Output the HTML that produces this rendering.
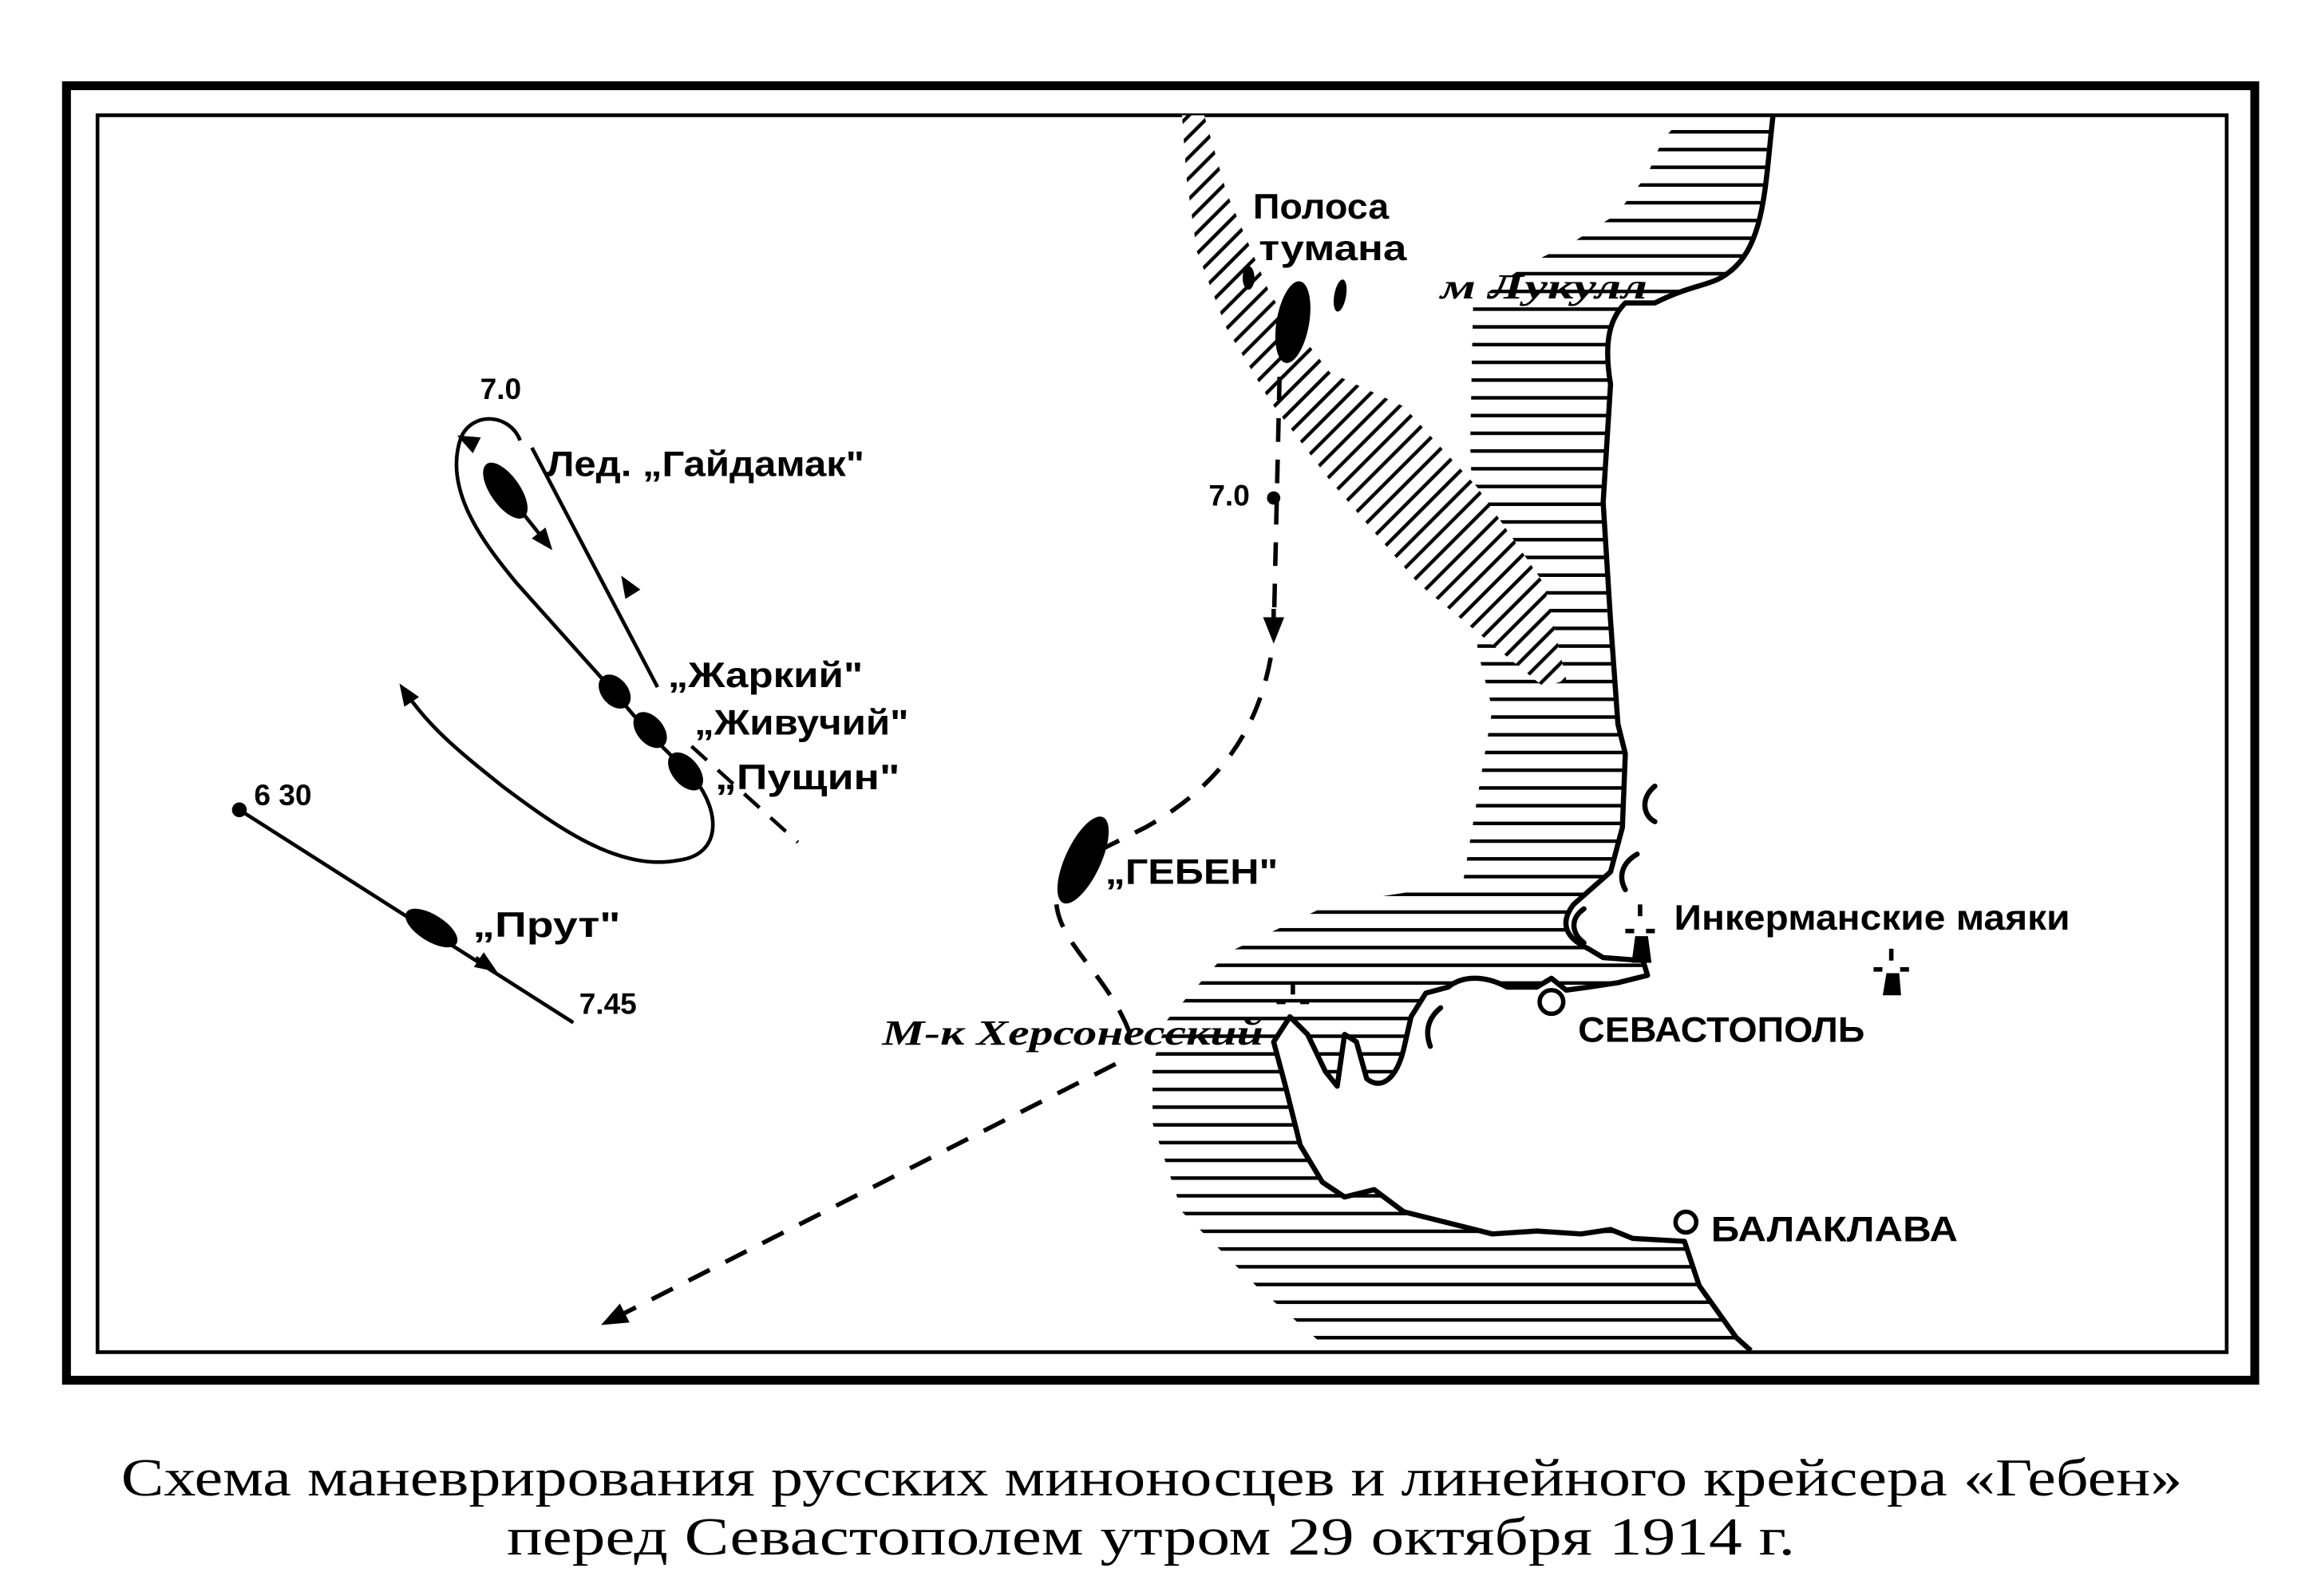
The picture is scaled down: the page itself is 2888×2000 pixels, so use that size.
<!DOCTYPE html>
<html><head><meta charset="utf-8"><style>
html,body{margin:0;padding:0;background:#fff;}
svg{display:block;}
.t{font-family:"Liberation Sans Narrow","Liberation Sans",sans-serif;font-weight:bold;fill:#000;}
.i{font-family:"Liberation Serif",serif;font-style:italic;font-weight:bold;fill:#000;}
.c{font-family:"Liberation Serif",serif;fill:#000;}
</style></head><body>
<svg width="2888" height="2000" viewBox="0 0 1560 1080" preserveAspectRatio="none" xmlns="http://www.w3.org/2000/svg">
<defs>
<pattern id="hz" width="60" height="12" patternUnits="userSpaceOnUse">
<rect x="0" y="4" width="60" height="2.4" fill="#000"/>
</pattern>
<pattern id="dg" width="10" height="10" patternUnits="userSpaceOnUse" patternTransform="rotate(-45)">
<rect x="0" y="3" width="10" height="2.4" fill="#000"/>
</pattern>
<marker id="ar" viewBox="0 0 10 10" refX="8" refY="5" markerWidth="6" markerHeight="6" orient="auto"><path d="M0,1 L10,5 L0,9 z" fill="#000"/></marker>
</defs>
<rect x="0" y="0" width="1560" height="1080" fill="#fff"/>
<rect x="45" y="58" width="1481" height="876" fill="none" stroke="#000" stroke-width="6"/>
<rect x="66" y="78" width="1441" height="837" fill="none" stroke="#000" stroke-width="2.5"/>

<path fill="url(#hz)" d="M1200,78 C1195,120 1195,160 1175,180 C1160,195 1150,190 1120,205 L1100,205 C1090,215 1085,230 1090,260 L1085,340 L1090,420 L1095,490 L1100,510 L1098,560 L1090,590 L1065,612 C1055,625 1060,635 1075,642 L1085,648 L1112,650 L1115,660 L1095,665 L1075,668 L1060,670 L1050,662 L1040,668 L1020,668 C1005,660 990,660 980,668 L965,672 L955,688 L950,710 C945,730 935,738 925,730 L918,705 L910,700 L905,735 L897,725 L885,700 L873,688 L862,705 L870,735 L880,775 L895,800 L910,810 L930,805 L950,820 L970,825 L990,830 L1010,835 L1040,833 L1070,835 L1090,832 L1105,838 L1140,840 L1150,870 L1175,905 L1185,914 L900,914 L850,870 L800,820 L780,760 L780,720 L790,690 L830,645 L900,612 L990,598 L1010,480 L1000,440 L995,300 L997,205 L1032,180 L1066,163 L1094,145 L1115,118 L1125,95 L1140,78 Z"/>
<path fill="#fff" d="M800,78 L815,78 L830,130 L860,200 L900,252 L950,275 L1000,330 L1045,395 L1060,460 L1045,465 L960,395 L900,325 L860,272 L830,222 L810,170 L803,120 Z"/>
<path fill="url(#dg)" d="M800,78 L815,78 L830,130 L860,200 L900,252 L950,275 L1000,330 L1045,395 L1060,460 L1045,465 L960,395 L900,325 L860,272 L830,222 L810,170 L803,120 Z"/>
<path fill="none" stroke="#000" stroke-width="3.5" stroke-linejoin="round" d="M1200,78 C1195,120 1195,160 1175,180 C1160,195 1150,190 1120,205 L1100,205 C1090,215 1085,230 1090,260 L1085,340 L1090,420 L1095,490 L1100,510 L1098,560 L1090,590 L1065,612 C1055,625 1060,635 1075,642 L1085,648 L1112,650 L1115,660 L1095,665 L1075,668 L1060,670 L1050,662 L1040,668 L1020,668 C1005,660 990,660 980,668 L965,672 L955,688 L950,710 C945,730 935,738 925,730 L918,705 L910,700 L905,735 L897,725 L885,700 L873,688 L862,705 L870,735 L880,775 L895,800 L910,810 L930,805 L950,820 L970,825 L990,830 L1010,835 L1040,833 L1070,835 L1090,832 L1105,838 L1140,840 L1150,870 L1175,905 L1185,914"/>
<g fill="none" stroke="#000" stroke-width="3.5" stroke-linecap="round">
<path d="M1120,532 C1110,540 1112,552 1120,556"/>
<path d="M1108,578 C1096,585 1096,595 1100,602"/>
<path d="M1072,615 C1062,622 1064,632 1072,638"/>
<path d="M975,682 C965,690 965,700 968,708"/>
</g>
<circle cx="1050" cy="678" r="8" fill="#fff" stroke="#000" stroke-width="3"/>
<circle cx="1141" cy="827" r="7" fill="#fff" stroke="#000" stroke-width="3"/>
<g stroke="#000" stroke-width="3" fill="#000">
<path d="M1110,612 v8 M1100,630 h6 M1114,630 h6" fill="none"/><path d="M1108,635 L1114,635 L1116,650 L1106,650 z"/>
<path d="M1280,642 v8 M1268,656 h6 M1286,656 h6" fill="none"/><path d="M1278,660 L1284,660 L1285,672 L1276,672 z"/>
<path d="M875,665 v8 M864,678 h6 M880,678 h6" fill="none"/>
</g>

<ellipse cx="875" cy="218" rx="11" ry="28" transform="rotate(10 875 218)" fill="#000"/>
<ellipse cx="845" cy="188" rx="4" ry="8" fill="#000"/>
<ellipse cx="907" cy="200" rx="4" ry="11" transform="rotate(10 907 200)" fill="#000"/>

<g fill="none" stroke="#000" stroke-width="3" stroke-dasharray="16,12">
<path d="M866,255 L862,430"/>
<path d="M860,445 C850,500 820,535 775,560 L745,575"/>
<path d="M715,612 C718,640 750,660 765,700"/>
<path d="M755,720 L410,895" marker-end="url(#ar)"/>
</g>
<path d="M862,412 L862,432" stroke="#000" stroke-width="3" marker-end="url(#ar)"/>
<circle cx="862" cy="337" r="4.5" fill="#000"/>
<ellipse cx="733" cy="582" rx="12" ry="32" transform="rotate(25 733 582)" fill="#000"/>

<g fill="none" stroke="#000" stroke-width="2.5">
<path d="M352,298 C345,280 320,278 312,296"/>
<path d="M312,296 C300,330 325,365 350,395 L410,462 L440,497 L470,527 C488,550 488,578 460,582 C420,590 380,562 340,532 C310,508 290,492 272,465" marker-end="url(#ar)"/>
<path d="M445,465 L360,303"/>
<path d="M340,330 L372,370" marker-end="url(#ar)"/>
<path d="M468,505 L540,570" stroke-dasharray="14,10"/>
<path d="M162,548 L388,692"/>
</g>
<path d="M427,400 L422,392" stroke="#000" stroke-width="2.5" marker-end="url(#ar)"/>
<path d="M320,300 L312,296" stroke="#000" stroke-width="2.5" marker-end="url(#ar)"/>
<path d="M322,648 L334,656" stroke="#000" stroke-width="2.5" marker-end="url(#ar)"/>
<circle cx="162" cy="548" r="5" fill="#000"/>
<ellipse cx="342" cy="332" rx="10" ry="22" transform="rotate(-35 342 332)" fill="#000"/>
<ellipse cx="416" cy="468" rx="9" ry="13" transform="rotate(-40 416 468)" fill="#000"/>
<ellipse cx="440" cy="494" rx="9" ry="14" transform="rotate(-40 440 494)" fill="#000"/>
<ellipse cx="464" cy="522" rx="9" ry="15" transform="rotate(-40 464 522)" fill="#000"/>
<ellipse cx="292" cy="628" rx="20" ry="9" transform="rotate(32 292 628)" fill="#000"/>

<g class="t" font-size="24" lengthAdjust="spacingAndGlyphs">
<text x="848" y="148" textLength="92" lengthAdjust="spacingAndGlyphs">Полоса</text>
<text x="852" y="176" textLength="100" lengthAdjust="spacingAndGlyphs">тумана</text>
<text x="325" y="270" font-size="20">7.0</text>
<text x="818" y="342" font-size="20">7.0</text>
<text x="370" y="322" textLength="215" lengthAdjust="spacingAndGlyphs">Лед. „Гайдамак"</text>
<text x="452" y="465" textLength="132" lengthAdjust="spacingAndGlyphs">„Жаркий"</text>
<text x="470" y="497" textLength="145" lengthAdjust="spacingAndGlyphs">„Живучий"</text>
<text x="484" y="534" textLength="125" lengthAdjust="spacingAndGlyphs">„Пущин"</text>
<text x="172" y="545" font-size="20">6 30</text>
<text x="320" y="634" textLength="100" lengthAdjust="spacingAndGlyphs">„Прут"</text>
<text x="392" y="686" font-size="20">7.45</text>
<text x="748" y="598" textLength="117" lengthAdjust="spacingAndGlyphs">„ГЕБЕН"</text>
<text x="1133" y="629" textLength="268" lengthAdjust="spacingAndGlyphs">Инкерманские маяки</text>
<text x="1068" y="705" textLength="194" lengthAdjust="spacingAndGlyphs">СЕВАСТОПОЛЬ</text>
<text x="1158" y="840" textLength="167" lengthAdjust="spacingAndGlyphs">БАЛАКЛАВА</text>
</g>
<text class="i" x="975" y="202" font-size="24" textLength="140" lengthAdjust="spacingAndGlyphs">м Лукулл</text>
<text class="i" x="597" y="707" font-size="24" textLength="258" lengthAdjust="spacingAndGlyphs">М-к Херсонесский</text>

<g class="c" font-size="36">
<text x="82" y="1012" textLength="1395" lengthAdjust="spacingAndGlyphs">Схема маневрирования русских миноносцев и линейного крейсера «Гебен»</text>
<text x="343" y="1052" textLength="872" lengthAdjust="spacingAndGlyphs">перед Севастополем утром 29 октября 1914 г.</text>
</g>
</svg>
</body></html>
